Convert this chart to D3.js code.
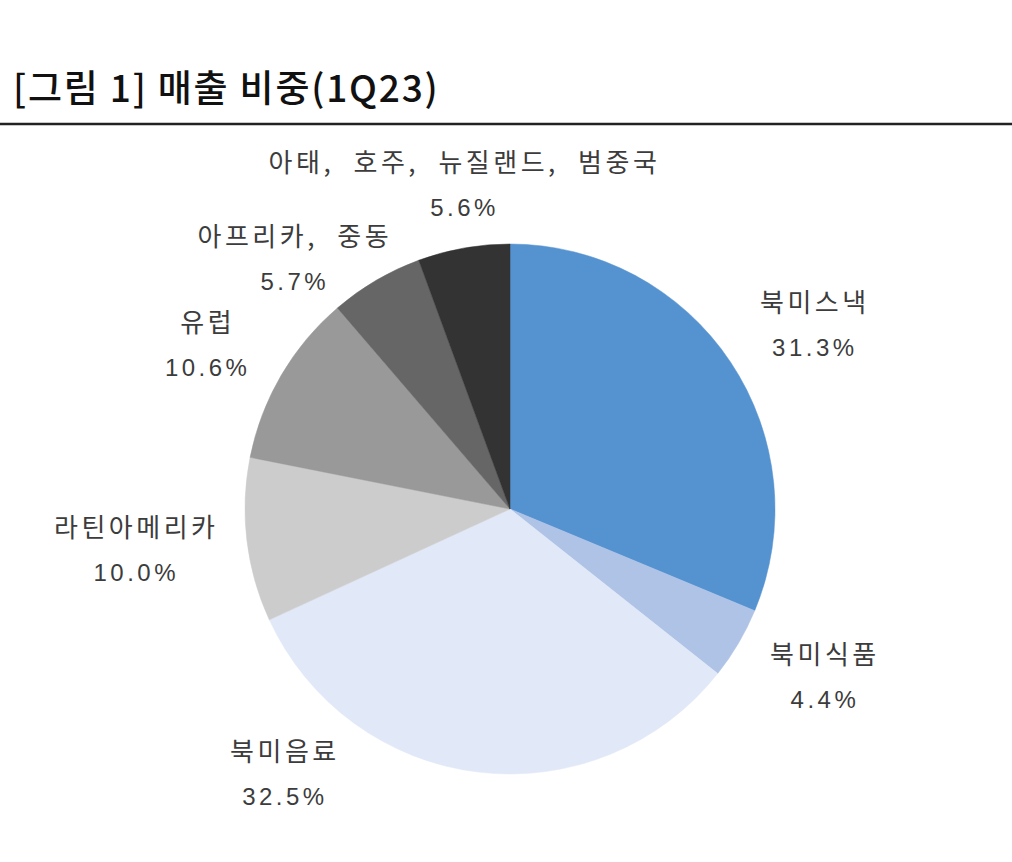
<!DOCTYPE html>
<html><head><meta charset="utf-8">
<script src="https://cdn.jsdelivr.net/npm/d3@7"></script>
<style>
html,body{margin:0;padding:0;background:#fff;}
svg{display:block;}
</style></head>
<body>
<svg id="chart" width="1012" height="862"></svg>
<script>
// ---- data ----
const title = "[그림 1] 매출 비중(1Q23)";
const categories = ["북미스낵", "북미식품", "북미음료", "라틴아메리카", "유럽", "아프리카, 중동", "아태, 호주, 뉴질랜드, 범중국"];
const shares = [31.3, 4.4, 32.5, 10.0, 10.6, 5.7, 5.6];
const colors = ["#5592D0", "#AEC3E6", "#E1E8F7", "#CCCCCC", "#999999", "#666666", "#333333"];

// ---- layout (label placement: angle in degrees, distance from centre) ----
const labelAngle = [58.9, 118.1, 220.3, 263.7, 298.5, 319.3, 352.0];
const labelDist  = [356, 357, 348, 376, 344, 330, 327];

const svg = d3.select("#chart");
const W = 1012, H = 862;
svg.append("rect").attr("width", W).attr("height", H).attr("fill", "#fff");

svg.append("text")
  .attr("x", 13).attr("y", 102)
  .attr("font-family", "'Noto Sans CJK KR', sans-serif")
  .attr("font-size", 37)
  .attr("font-weight", 500)
  .attr("letter-spacing", 1.8)
  .attr("fill", "#111")
  .text(title);

svg.append("line")
  .attr("x1", 0).attr("x2", W).attr("y1", 124).attr("y2", 124)
  .attr("stroke", "#222").attr("stroke-width", 2.5);

const cx = 510, cy = 509, R = 265;
const data = categories.map((c, i) => ({name: c, value: shares[i], color: colors[i], i}));
const pie = d3.pie().value(d => d.value).sort(null);
const arc = d3.arc().innerRadius(0).outerRadius(R);

const g = svg.append("g").attr("transform", `translate(${cx},${cy})`);
g.selectAll("path").data(pie(data)).join("path")
  .attr("d", arc)
  .attr("fill", d => d.data.color)
  .attr("stroke", d => d.data.color)
  .attr("stroke-width", 0.5);

const lab = g.selectAll("g.lab").data(pie(data)).join("g").attr("class", "lab")
  .attr("transform", d => {
    const a = labelAngle[d.data.i] * Math.PI / 180, r = labelDist[d.data.i];
    return `translate(${r * Math.sin(a)},${-r * Math.cos(a)})`;
  });
lab.append("text")
  .attr("y", -13)
  .attr("text-anchor", "middle")
  .attr("font-family", "'Noto Sans CJK KR', sans-serif")
  .attr("font-size", 26)
  .attr("letter-spacing", 3.5)
  .attr("word-spacing", 10)
  .attr("fill", "#3c3c3c")
  .text(d => d.data.name);
lab.append("text")
  .attr("y", 31)
  .attr("text-anchor", "middle")
  .attr("font-family", "'Liberation Sans', Arial, sans-serif")
  .attr("font-size", 24)
  .attr("letter-spacing", 3.5)
  .attr("fill", "#3c3c3c")
  .text(d => d.data.value.toFixed(1) + "%");
</script>
</body></html>
